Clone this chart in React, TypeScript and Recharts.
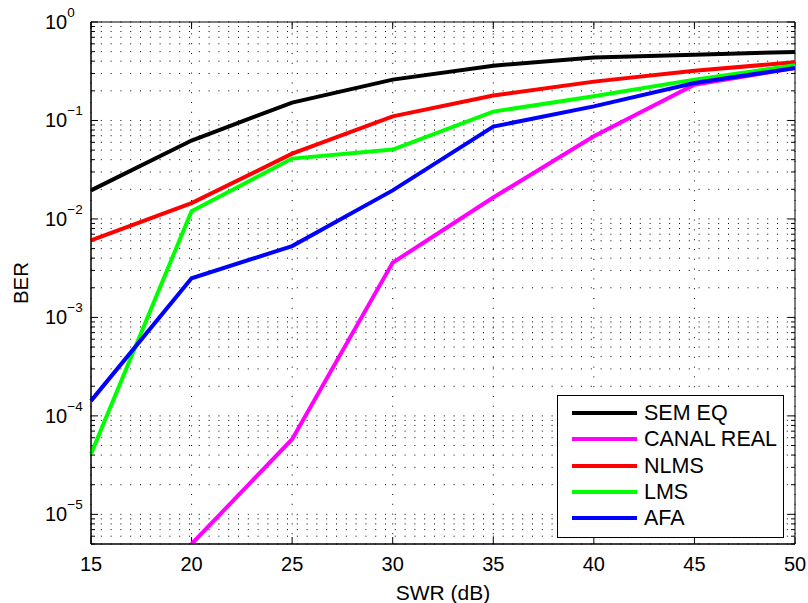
import React from 'react';
import { LineChart, Line, XAxis, YAxis, ReferenceLine, ReferenceArea } from 'recharts';

const snr = [15, 20, 25, 30, 35, 40, 45, 50];
const semEq = [0.0195, 0.0625, 0.152, 0.26, 0.36, 0.435, 0.466, 0.496];
const canalReal: (number | null)[] = [null, 5e-6, 5.8e-5, 0.0036, 0.0165, 0.069, 0.231, 0.34];
const nlms = [0.00605, 0.0145, 0.046, 0.11, 0.179, 0.248, 0.32, 0.39];
const lms = [4.1e-5, 0.012, 0.041, 0.0507, 0.123, 0.176, 0.26, 0.363];
const afa = [1.42e-4, 0.0025, 0.0053, 0.0195, 0.0867, 0.139, 0.24, 0.341];

const xTicks = [15, 20, 25, 30, 35, 40, 45, 50];
const yTicks = [1e-5, 1e-4, 1e-3, 1e-2, 1e-1, 1];
const yMin = 5e-6;
const yMax = 1;
const xMin = 15;
const xMax = 50;

const seriesNames = ['SEM EQ', 'CANAL REAL', 'NLMS', 'LMS', 'AFA'];
const seriesKeys = ['semEq', 'canalReal', 'nlms', 'lms', 'afa'];
const seriesColors = ['#000000', '#ff00ff', '#ff0000', '#00ff00', '#0000ff'];

const data = snr.map((x, i) => ({
  x,
  semEq: semEq[i],
  canalReal: canalReal[i],
  nlms: nlms[i],
  lms: lms[i],
  afa: afa[i],
}));

// minor (and major) gridline values on the log axis
const minorValues: number[] = [];
for (let e = -6; e <= -1; e++) {
  for (let k = 1; k <= 9; k++) {
    const v = k * Math.pow(10, e);
    if (v >= yMin * 0.999 && v <= yMax) minorValues.push(Number(v.toPrecision(3)));
  }
}
minorValues.push(1);

const FONT = '"Liberation Sans", Arial, Helvetica, sans-serif';

const YTick = (props: any) => {
  const { x, y, payload } = props;
  const exp = Math.round(Math.log10(payload.value));
  const sup = exp === 0 ? '0' : '\u2212' + String(-exp);
  return (
    <text x={x - 46} y={y + 7} fontSize={20} fontFamily={FONT} fill="#000" textAnchor="start">
      10
      <tspan dy={-12} fontSize={13.5}>{sup}</tspan>
    </text>
  );
};

const dotted = '1 8.8';
const majorTickDx = (xMax - xMin) * 7 / 703;
const minorTickDx = (xMax - xMin) * 4 / 703;
const xTickFactor = Math.pow(10, 7 / 98.6);

export default function App() {
  return (
    <div style={{ position: 'absolute', left: 0, top: 0, width: 808, height: 603, background: '#fff', fontFamily: FONT }}>
      <LineChart width={808} height={603} data={data} margin={{ top: 22, right: 13, left: 0, bottom: 0 }}>
        <XAxis
          dataKey="x"
          type="number"
          domain={[xMin, xMax]}
          ticks={xTicks}
          tickLine={false}
          tickSize={0}
          tickMargin={13}
          height={59}
          axisLine={{ stroke: '#000' }}
          tick={{ fontSize: 20, fill: '#000', fontFamily: FONT }}
          label={{ value: 'SWR (dB)', position: 'insideBottom', offset: 3, fontSize: 21, fill: '#000', fontFamily: FONT }}
        />
        <YAxis
          type="number"
          scale="log"
          domain={[yMin, yMax]}
          allowDataOverflow
          ticks={yTicks}
          tickLine={false}
          tickSize={0}
          tickMargin={0}
          width={91}
          axisLine={{ stroke: '#000' }}
          tick={<YTick />}
          label={{
            content: (p: any) => {
              const vb = p.viewBox || { x: 0, y: 22, width: 91, height: 522 };
              const cx = vb.x + 20.5;
              const cy = vb.y + vb.height / 2;
              return (
                <text
                  x={cx}
                  y={cy}
                  transform={`rotate(-90 ${cx} ${cy})`}
                  textAnchor="middle"
                  dominantBaseline="central"
                  fontSize={20.5}
                  fontFamily={FONT}
                  fill="#000"
                >
                  BER
                </text>
              );
            },
          }}
        />
        {minorValues.map((v) => (
          <ReferenceLine key={'h' + v} y={v} stroke="#000" strokeWidth={1} strokeDasharray={dotted} />
        ))}
        {xTicks.map((t) => (
          <ReferenceLine key={'v' + t} x={t} stroke="#000" strokeWidth={1} strokeDasharray={dotted} />
        ))}
        {minorValues.map((v) => {
          const major = yTicks.some((t) => Math.abs(t - v) / t < 1e-6);
          const dx = major ? majorTickDx : minorTickDx;
          return (
            <React.Fragment key={'t' + v}>
              <ReferenceLine segment={[{ x: xMin, y: v }, { x: xMin + dx, y: v }]} stroke="#000" strokeWidth={1} />
              <ReferenceLine segment={[{ x: xMax - dx, y: v }, { x: xMax, y: v }]} stroke="#000" strokeWidth={1} />
            </React.Fragment>
          );
        })}
        {xTicks.map((t) => (
          <React.Fragment key={'xt' + t}>
            <ReferenceLine segment={[{ x: t, y: yMin }, { x: t, y: yMin * xTickFactor }]} stroke="#000" strokeWidth={1} />
            <ReferenceLine segment={[{ x: t, y: yMax / xTickFactor }, { x: t, y: yMax }]} stroke="#000" strokeWidth={1} />
          </React.Fragment>
        ))}
        <ReferenceArea x1={xMin} x2={xMax} y1={yMin} y2={yMax} fill="none" stroke="#000" strokeWidth={1} />
        {seriesKeys.map((k, i) => (
          <Line
            key={k}
            dataKey={k}
            type="linear"
            stroke={seriesColors[i]}
            strokeWidth={4}
            dot={false}
            activeDot={false}
            isAnimationActive={false}
          />
        ))}
      </LineChart>
      <div
        style={{
          position: 'absolute',
          left: 557,
          top: 395,
          width: 225,
          height: 137,
          border: '1px solid #000',
          background: '#fff',
          paddingTop: 4,
          boxSizing: 'content-box',
        }}
      >
        {seriesNames.map((n, i) => (
          <div key={n} style={{ position: 'relative', height: 26.3, lineHeight: '26.3px', fontSize: 21.5, color: '#000' }}>
            <div
              style={{
                position: 'absolute',
                left: 14,
                width: 65,
                top: 11,
                height: 4,
                background: seriesColors[i],
              }}
            />
            <span style={{ position: 'absolute', left: 86, top: 0, whiteSpace: 'nowrap' }}>{n}</span>
          </div>
        ))}
      </div>
    </div>
  );
}
